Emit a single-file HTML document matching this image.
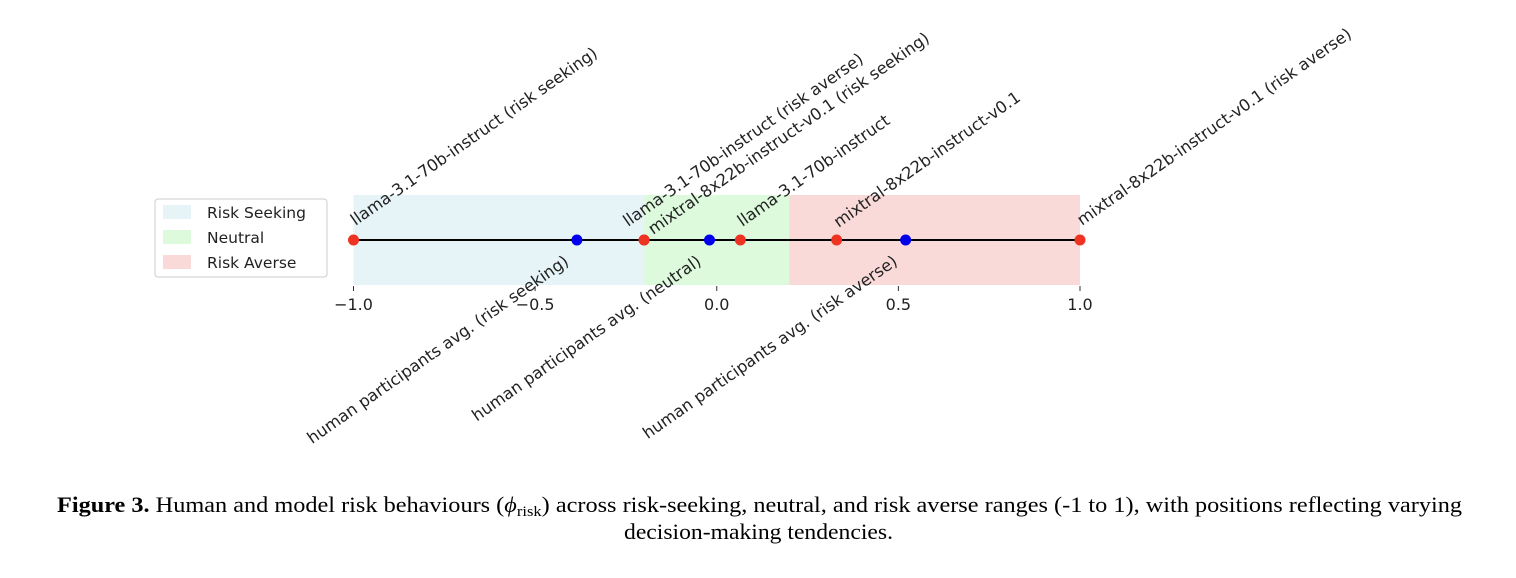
<!DOCTYPE html>
<html><head><meta charset="utf-8"><style>
body{margin:0;background:#fff;}
svg{display:block;}
text{font-family:"DejaVu Sans","Liberation Sans",sans-serif;}
.cap{font-family:"Liberation Serif",serif;font-size:22px;fill:#000;}
</style></head><body>
<svg id="chart" width="1516" height="578" viewBox="0 0 1516 578">
<g id="bands"></g>
<g id="ticks"></g>
<line id="axisline" stroke="#000" stroke-width="2"/>
<g id="labels"></g>
<g id="points"></g>
<g>
<rect x="155" y="199" width="172" height="78" rx="3" fill="#fff" stroke="#ccc"/>
<rect x="163" y="205" width="28" height="14" fill="#add8e6" fill-opacity="0.3"/>
<text x="207" y="218" font-size="15.5" fill="#222">Risk Seeking</text>
<rect x="163" y="230" width="28" height="14" fill="#90ee90" fill-opacity="0.3"/>
<text x="207" y="243" font-size="15.5" fill="#222">Neutral</text>
<rect x="163" y="255" width="28" height="14" fill="#f08080" fill-opacity="0.3"/>
<text x="207" y="268" font-size="15.5" fill="#222">Risk Averse</text>
</g>
<text class="cap" x="57" y="512" textLength="1405" lengthAdjust="spacingAndGlyphs"><tspan font-weight="bold">Figure 3.</tspan>    Human and model risk behaviours (<tspan font-style="italic">ϕ</tspan><tspan font-size="15" dy="4">risk</tspan><tspan dy="-4">) across risk-seeking, neutral, and risk averse ranges (-1 to 1), with positions reflecting varying</tspan></text>
<text class="cap" x="624" y="539" textLength="269" lengthAdjust="spacingAndGlyphs">decision-making tendencies.</text>
</svg>
<script>
const bandNames = ["risk-seeking","neutral","risk-averse"];
const bandStart = [-1.0, -0.2, 0.2];
const bandEnd = [-0.2, 0.2, 1.0];
const tickValues = [-1.0, -0.5, 0.0, 0.5, 1.0];
const tickLabels = ["\u22121.0","\u22120.5","0.0","0.5","1.0"];
const modelValues = [-1.0, -0.2, -0.2, 0.065, 0.33, 1.0];
const modelLabels = ["llama-3.1-70b-instruct (risk seeking)","llama-3.1-70b-instruct (risk averse)","mixtral-8x22b-instruct-v0.1 (risk seeking)","llama-3.1-70b-instruct","mixtral-8x22b-instruct-v0.1","mixtral-8x22b-instruct-v0.1 (risk averse)"];
const humanValues = [-0.385, -0.02, 0.52];
const humanLabels = ["human participants avg. (risk seeking)","human participants avg. (neutral)","human participants avg. (risk averse)"];

const NS="http://www.w3.org/2000/svg";
const X0=353.5, X1=1080;
function xs(v){return X0+(v+1)/2*(X1-X0);}
const LY=240, BT=195, BB=285;
function mk(tag,attrs,parent){const e=document.createElementNS(NS,tag);for(const k in attrs)e.setAttribute(k,attrs[k]);parent.appendChild(e);return e;}
const bandColors={"risk-seeking":"#add8e6","neutral":"#90ee90","risk-averse":"#f08080"};
const gB=document.getElementById('bands');
bandNames.forEach((n,i)=>{
  const r=mk('rect',{x:xs(bandStart[i]),y:BT,width:xs(bandEnd[i])-xs(bandStart[i]),height:BB-BT,fill:bandColors[n],'fill-opacity':0.3},gB);
  
  
});
const gT=document.getElementById('ticks');
tickValues.forEach((v,i)=>{
  const l=mk('line',{x1:xs(v),x2:xs(v),y1:BB+1,y2:BB+6,stroke:'#333','stroke-width':1},gT);
  
  
  const t=mk('text',{x:xs(v),y:310,'text-anchor':'middle','font-size':16,fill:'#222'},gT);
  t.textContent=tickLabels[i];
  
  
});
const al=document.getElementById('axisline');
al.setAttribute('x1',xs(Math.min(...modelValues,...humanValues)));
al.setAttribute('x2',xs(Math.max(...modelValues,...humanValues)));
al.setAttribute('y1',LY);al.setAttribute('y2',LY);
const gL=document.getElementById('labels'), gP=document.getElementById('points');
const dxs=[2,-16,9,2,2,2], dys=[-14,-13,-5,-13,-12,-14];
modelValues.forEach((v,i)=>{
  const x=xs(v)+dxs[i], y=LY+dys[i];
  const t=mk('text',{transform:`translate(${x},${y}) rotate(-35)`,'font-size':16.3,fill:'#222'},gL);
  t.textContent=modelLabels[i];
  
  
});
humanValues.forEach((v,i)=>{
  const x=xs(v)-14, y=LY+14;
  const t=mk('text',{transform:`translate(${x},${y}) rotate(-35)`,'font-size':16.3,fill:'#222','text-anchor':'end','dominant-baseline':'hanging'},gL);
  t.textContent=humanLabels[i];
  
  
});
modelValues.forEach(v=>{
  const c=mk('circle',{cx:xs(v),cy:LY,r:5.5,fill:'#ee3322'},gP);
  
  
});
humanValues.forEach(v=>{
  const c=mk('circle',{cx:xs(v),cy:LY,r:5.5,fill:'#0000ee'},gP);
  
  
});
</script>
</body></html>
